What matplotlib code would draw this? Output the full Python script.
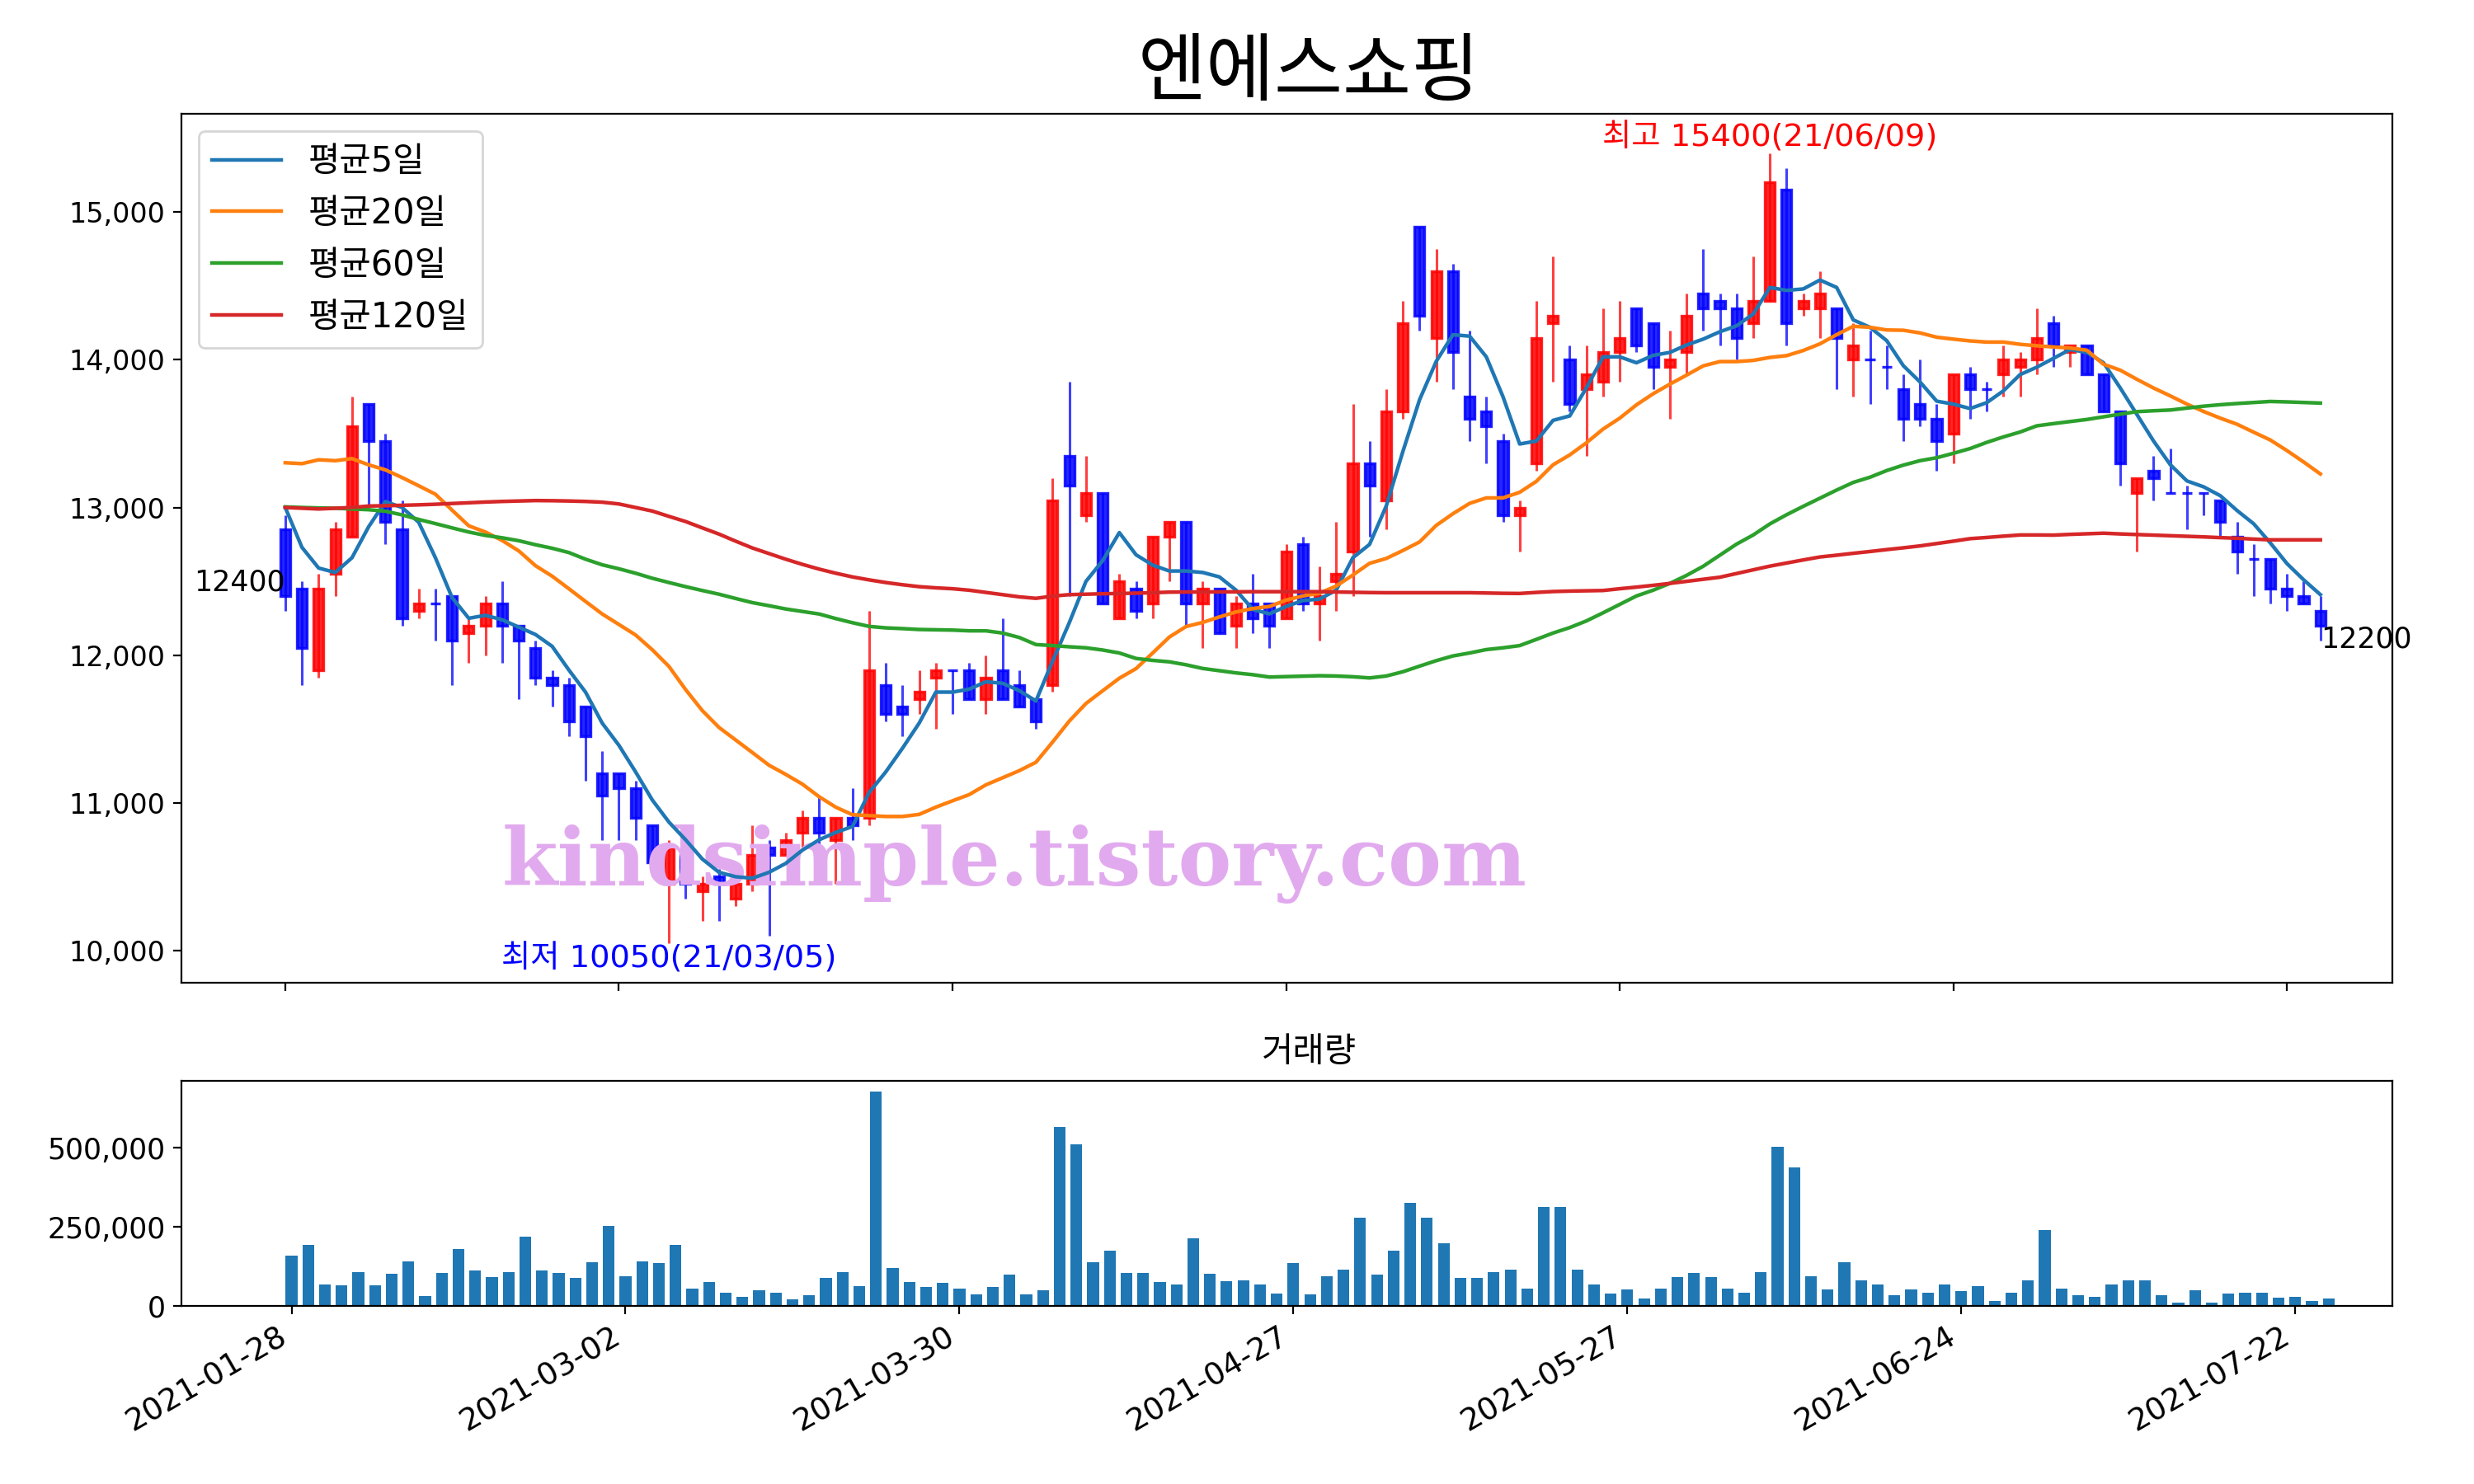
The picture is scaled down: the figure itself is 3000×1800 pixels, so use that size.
import numpy as np
import matplotlib
matplotlib.use("Agg")
import matplotlib.pyplot as plt
from matplotlib.ticker import FuncFormatter, FixedLocator

plt.rcParams['font.family'] = ['DejaVu Sans', 'Noto Sans CJK KR']
plt.rcParams['axes.unicode_minus'] = False

title = '엔에스쇼핑'
tick_labels = ['2021-01-28', '2021-03-02', '2021-03-30', '2021-04-27',
               '2021-05-27', '2021-06-24', '2021-07-22']

opens = [12850, 12450, 11900, 12550, 12800, 13700, 13450, 12850, 12300, 12350,
         12400, 12150, 12200, 12350, 12200, 12050, 11850, 11800, 11650, 11200,
         11200, 11100, 10850, 10450, 10650, 10400, 10500, 10350, 10450, 10700,
         10650, 10800, 10900, 10750, 10900, 10900, 11800, 11650, 11700, 11850,
         11900, 11900, 11700, 11900, 11800, 11700, 11800, 13350, 12950, 13100,
         12250, 12450, 12350, 12800, 12900, 12350, 12450, 12200, 12350, 12350,
         12250, 12750, 12350, 12500, 12700, 13300, 13050, 13650, 14900, 14150,
         14600, 13750, 13650, 13450, 12950, 13300, 14250, 14000, 13800, 13850,
         14050, 14350, 14250, 13950, 14050, 14450, 14400, 14350, 14250, 14400,
         15150, 14350, 14350, 14350, 14000, 14000, 13950, 13800, 13700, 13600,
         13500, 13900, 13800, 13900, 13950, 14000, 14250, 14050, 14100, 13900,
         13650, 13100, 13250, 13100, 13100, 13100, 13050, 12800, 12650, 12650,
         12450, 12400, 12300]
highs = [12950, 12500, 12550, 12900, 13750, 13700, 13500, 13050, 12450, 12450,
         12400, 12250, 12400, 12500, 12200, 12100, 11900, 11850, 11650, 11350,
         11200, 11150, 10850, 10750, 10700, 10500, 10550, 10500, 10850, 10750,
         10800, 10950, 11050, 10900, 11100, 12300, 11950, 11800, 11900, 11950,
         11900, 11950, 12000, 12250, 11900, 11700, 13200, 13850, 13350, 13100,
         12550, 12500, 12800, 12900, 12900, 12500, 12450, 12400, 12550, 12350,
         12750, 12800, 12600, 12900, 13700, 13450, 13800, 14400, 14900, 14750,
         14650, 14200, 13750, 13500, 13050, 14400, 14700, 14100, 14100, 14350,
         14400, 14350, 14250, 14200, 14450, 14750, 14450, 14450, 14700, 15400,
         15300, 14450, 14600, 14350, 14250, 14200, 14100, 13900, 14000, 13700,
         13900, 13950, 13850, 14100, 14050, 14350, 14300, 14100, 14100, 13900,
         13650, 13200, 13350, 13400, 13150, 13100, 13050, 12900, 12750, 12650,
         12550, 12500, 12400]
lows = [12300, 11800, 11850, 12400, 12800, 13000, 12750, 12200, 12250, 12100,
        11800, 11950, 12000, 11950, 11700, 11800, 11650, 11450, 11150, 10750,
        10750, 10750, 10500, 10050, 10350, 10200, 10200, 10300, 10400, 10100,
        10650, 10700, 10700, 10450, 10750, 10850, 11550, 11450, 11600, 11500,
        11600, 11700, 11600, 11700, 11650, 11500, 11750, 12400, 12900, 12350,
        12250, 12250, 12250, 12500, 12200, 12050, 12150, 12050, 12150, 12050,
        12250, 12300, 12100, 12300, 12400, 12800, 12850, 13600, 14200, 13850,
        13800, 13450, 13300, 12900, 12700, 13250, 13850, 13650, 13350, 13750,
        13850, 14050, 13800, 13600, 13900, 14200, 14100, 14000, 14150, 14400,
        14100, 14300, 14150, 13800, 13750, 13700, 13800, 13450, 13550, 13250,
        13300, 13600, 13650, 13750, 13750, 13900, 13950, 13950, 13900, 13650,
        13150, 12700, 13050, 13100, 12850, 12950, 12800, 12550, 12400, 12350,
        12300, 12350, 12100]
closes = [12400, 12050, 12450, 12850, 13550, 13450, 12900, 12250, 12350, 12350,
          12100, 12200, 12350, 12200, 12100, 11850, 11800, 11550, 11450, 11050,
          11100, 10900, 10600, 10700, 10450, 10450, 10450, 10450, 10650, 10650,
          10750, 10900, 10800, 10900, 10850, 11900, 11600, 11600, 11750, 11900,
          11900, 11700, 11850, 11700, 11650, 11550, 13050, 13150, 13100, 12350,
          12500, 12300, 12800, 12900, 12350, 12450, 12150, 12350, 12250, 12200,
          12700, 12350, 12400, 12550, 13300, 13150, 13650, 14250, 14300, 14600,
          14050, 13600, 13550, 12950, 13000, 14150, 14300, 13700, 13900, 14050,
          14150, 14100, 13950, 14000, 14300, 14350, 14350, 14150, 14400, 15200,
          14250, 14400, 14450, 14150, 14100, 14000, 13950, 13600, 13600, 13450,
          13900, 13800, 13800, 14000, 14000, 14150, 14100, 14100, 13900, 13650,
          13300, 13200, 13200, 13100, 13100, 13100, 12900, 12700, 12650, 12450,
          12400, 12350, 12200]
# closes of the four sessions before the first one (needed by the 5-day average)
pre_closes = [13400, 13150, 13000, 13050]

volume_k = [158, 192, 67, 64, 108, 64, 101, 140, 30, 103,
            181, 111, 90, 106, 220, 111, 103, 88, 137, 252,
            95, 142, 135, 192, 54, 75, 43, 28, 49, 43,
            20, 33, 88, 106, 62, 679, 119, 75, 59, 72,
            54, 36, 59, 98, 36, 49, 567, 510, 137, 176,
            103, 103, 75, 69, 213, 101, 77, 82, 69, 38,
            135, 36, 95, 114, 280, 98, 174, 325, 280, 197,
            88, 88, 106, 114, 54, 314, 312, 114, 69, 38,
            51, 23, 54, 90, 103, 90, 56, 43, 106, 504,
            437, 93, 51, 137, 80, 67, 33, 51, 43, 67,
            46, 62, 15, 41, 82, 239, 54, 33, 28, 67,
            80, 80, 33, 10, 49, 10, 38, 43, 41, 25,
            28, 15, 23]

ma20 = [13303, 13297, 13323, 13317, 13331, 13289, 13255, 13203, 13147, 13090,
        12982, 12876, 12834, 12777, 12706, 12606, 12535, 12450, 12364, 12279,
        12208, 12137, 12037, 11924, 11767, 11625, 11511, 11426, 11341, 11255,
        11193, 11127, 11042, 10971, 10920, 10914, 10908, 10908, 10922, 10971,
        11014, 11056, 11122, 11170, 11218, 11275, 11412, 11554, 11673, 11759,
        11844, 11909, 12015, 12123, 12194, 12222, 12259, 12293, 12316, 12330,
        12373, 12401, 12420, 12468, 12543, 12622, 12655, 12709, 12767, 12879,
        12958, 13028, 13065, 13065, 13103, 13177, 13289, 13356, 13438, 13531,
        13605, 13695, 13770, 13835, 13896, 13959, 13988, 13988, 13996, 14016,
        14028, 14063, 14108, 14170, 14227, 14220, 14202, 14200, 14182, 14153,
        14140, 14128, 14120, 14120, 14105, 14095, 14087, 14080, 14065, 13970,
        13930, 13868, 13809, 13756, 13700, 13650, 13605, 13564, 13510, 13457,
        13385, 13308, 13227]
ma60 = [13004, 13000, 12997, 12995, 12990, 12985, 12975, 12950, 12919, 12891,
        12862, 12834, 12811, 12795, 12775, 12748, 12724, 12695, 12650, 12612,
        12585, 12555, 12521, 12492, 12464, 12438, 12413, 12384, 12356, 12335,
        12313, 12296, 12279, 12248, 12220, 12195, 12185, 12180, 12174, 12172,
        12170, 12165, 12165, 12150, 12120, 12072, 12065, 12057, 12050, 12035,
        12015, 11978, 11965, 11955, 11935, 11910, 11895, 11880, 11868, 11852,
        11855, 11858, 11861, 11859, 11854, 11846, 11859, 11888, 11926, 11963,
        11995, 12015, 12038, 12050, 12065, 12107, 12150, 12187, 12232, 12287,
        12344, 12401, 12440, 12486, 12540, 12602, 12677, 12752, 12814, 12889,
        12951, 13008, 13063, 13118, 13170, 13205, 13250, 13287, 13317, 13337,
        13367, 13399, 13441, 13478, 13511, 13553, 13568, 13582, 13596, 13614,
        13632, 13649, 13655, 13660, 13673, 13686, 13696, 13704, 13711, 13718,
        13715, 13711, 13707]
ma120 = [13000, 12995, 12990, 12995, 13000, 13010, 13012, 13015, 13018, 13022,
         13027, 13032, 13037, 13041, 13044, 13047, 13046, 13044, 13041, 13036,
         13024, 13000, 12976, 12940, 12905, 12862, 12820, 12772, 12726, 12688,
         12650, 12615, 12583, 12555, 12530, 12510, 12492, 12477, 12464, 12456,
         12450, 12440, 12425, 12410, 12395, 12385, 12400, 12410, 12413, 12416,
         12418, 12420, 12423, 12427, 12428, 12428, 12429, 12429, 12430, 12430,
         12430, 12430, 12430, 12428, 12426, 12424, 12423, 12423, 12423, 12423,
         12423, 12423, 12421, 12419, 12418, 12425, 12431, 12434, 12436, 12438,
         12450, 12461, 12473, 12486, 12500, 12514, 12528, 12553, 12578, 12603,
         12624, 12645, 12665, 12677, 12690, 12702, 12715, 12727, 12740, 12756,
         12772, 12789, 12797, 12806, 12814, 12814, 12813, 12818, 12822, 12826,
         12821, 12817, 12813, 12809, 12805, 12801, 12796, 12792, 12786, 12781,
         12781, 12781, 12781]

hi_label = '최고 15400(21/06/09)'
lo_label = '최저 10050(21/03/05)'
watermark = 'kindsimple.tistory.com'

o = np.array(opens, float); h = np.array(highs, float)
l = np.array(lows, float); c = np.array(closes, float)
vol = np.array(volume_k, float) * 1000
n = len(c)
x = np.arange(n)
ma5 = np.convolve(np.concatenate([pre_closes, c]), np.ones(5) / 5, mode='valid')

fig = plt.figure(figsize=(15, 9), dpi=200)
ax1 = fig.add_axes([0.0733, 0.3378, 0.8936, 0.5857])
ax2 = fig.add_axes([0.0733, 0.1200, 0.8936, 0.1519])

cols = np.where(c > o, 'red', 'blue')
ax1.vlines(x, l, h, colors=cols, linewidth=1.1, alpha=0.75, zorder=2)
ax1.bar(x, np.abs(c - o), bottom=np.minimum(o, c), width=0.6, color=cols,
        edgecolor=cols, linewidth=1.2, alpha=0.85, zorder=2)

ax1.plot(x, ma5, color='#1f77b4', lw=1.6, label='평균5일', zorder=4)
ax1.plot(x, ma20, color='#ff7f0e', lw=1.6, label='평균20일', zorder=4)
ax1.plot(x, ma60, color='#2ca02c', lw=1.6, label='평균60일', zorder=4)
ax1.plot(x, ma120, color='#d62728', lw=1.6, label='평균120일', zorder=4)

imax = int(np.argmax(h)); imin = int(np.argmin(l))
ax1.text(imax, h[imax], hi_label, color='red', ha='center', va='bottom', fontsize=13.8)
ax1.text(imin, l[imin], lo_label, color='blue', ha='center', va='top', fontsize=13.8)
ax1.text(0, c[0], f'{int(c[0])}', ha='right', va='bottom', fontsize=12.5)
ax1.text(n - 1, c[-1], f'{int(c[-1])}', ha='left', va='top', fontsize=12.5)

ax1.text(0.377, 0.137, watermark, transform=ax1.transAxes, ha='center', va='center',
         fontsize=35, fontweight='bold', family='DejaVu Serif', color='#E2AAEE', zorder=3)

lo_v, hi_v = l.min(), h.max()
pad = 0.05 * (hi_v - lo_v)
ax1.set_ylim(lo_v - pad, hi_v + pad)
ax1.set_xlim(-6.23, 126.3)
ax1.yaxis.set_major_formatter(FuncFormatter(lambda v, p: f'{v:,.0f}'))
tick_pos = list(range(0, n, 20))
ax1.set_xticks(tick_pos)
ax1.set_xticklabels([])
ax1.tick_params(labelsize=12)
ax1.legend(loc='upper left', fontsize=15)
ax1.set_title(title, fontsize=32.5, x=0.51, pad=8)

ax2.bar(x, vol, width=0.7, color='#1f77b4')
ax2.set_xlim(-6.6, 125.8)
ax2.set_ylim(0, vol.max() * 1.05)
ax2.yaxis.set_major_locator(FixedLocator([0, 250000, 500000]))
ax2.yaxis.set_major_formatter(FuncFormatter(lambda v, p: f'{v:,.0f}'))
ax2.set_xticks(tick_pos)
ax2.set_xticklabels(tick_labels, rotation=30, ha='right')
ax2.tick_params(axis='y', labelsize=12.5)
ax2.tick_params(axis='x', labelsize=13.5)
ax2.set_title('거래량', fontsize=15, x=0.51, pad=8)

fig.savefig('out.png', dpi=200)
